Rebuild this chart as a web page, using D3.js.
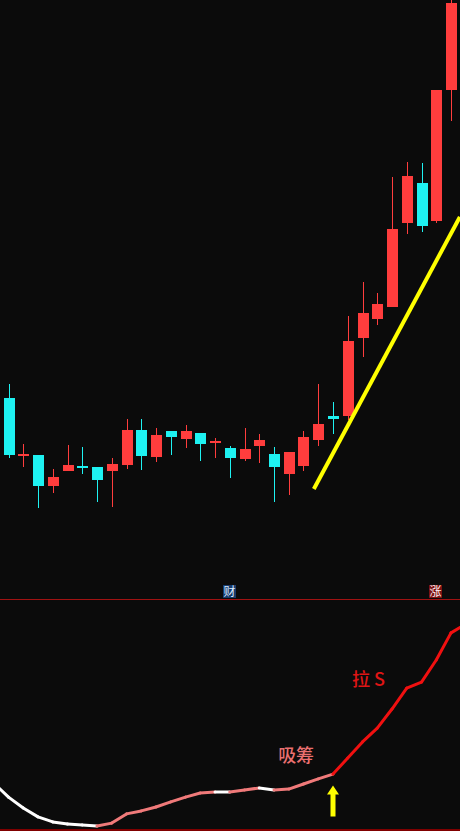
<!DOCTYPE html>
<html>
<head>
<meta charset="utf-8">
<script src="https://cdn.jsdelivr.net/npm/d3@7"></script>
<style>
  html, body { margin: 0; padding: 0; background: #0b0b0b; }
  #chart { width: 460px; height: 831px; }
</style>
</head>
<body>
<div id="chart"></div>
<script>
// daily candles: open, high, low, close
const opens  = [12.04,10.90,10.90,10.28,10.58,10.68,10.66,10.58,10.70,11.40,10.86,11.38,11.22,11.34,11.14,11.04,10.82,11.08,10.92,10.52,10.68,11.20,11.68,11.68,13.24,13.62,13.86,15.54,16.34,15.58,18.20];
const highs  = [12.32,11.12,10.90,10.62,11.10,11.06,10.66,10.84,11.62,11.62,11.44,11.38,11.50,11.34,11.24,11.08,11.44,11.32,11.06,10.96,11.38,12.32,11.96,13.68,14.36,14.14,16.46,16.76,16.74,18.20,20.10];
const lows   = [10.84,10.66, 9.84,10.14,10.58,10.52, 9.96, 9.86,10.62,10.60,10.76,10.90,11.04,10.78,10.84,10.44,10.78,10.74, 9.96,10.10,10.58,11.08,11.32,11.60,12.86,13.50,13.86,15.32,15.36,15.54,17.58];
const closes = [10.90,10.92,10.28,10.46,10.70,10.66,10.40,10.72,11.40,10.88,11.30,11.26,11.38,11.12,11.18,10.84,11.02,11.20,10.66,10.96,11.26,11.52,11.62,13.18,13.74,13.92,15.42,16.48,15.48,18.20,19.94];

// trend line drawn under the rally (index, price)
const trendLine = [{i: 20.7, p: 10.22}, {i: 30.6, p: 15.66}];

// little flags sitting on the divider
const flags = [{i: 15, text: "财", kind: "blue"}, {i: 29, text: "涨", kind: "red"}];

// indicator, index -1 .. 31, and its state per point (w = idle, p = 吸筹, r = 拉S)
const indicator = [20.4,14.3,9.6,5.7,3.5,2.6,2.2,1.7,3.0,7.0,8.3,10.0,12.2,14.3,16.1,16.5,16.5,17.4,18.3,17.4,17.8,20.0,22.2,24.3,31.3,38.3,44.3,52.6,61.7,64.3,73.9,85.7,89.6];
const states = ["w","w","w","w","w","w","w","w","p","p","p","p","p","p","p","p","w","p","p","w","p","p","p","p","r","r","r","r","r","r","r","r","r"];

const notes = [{text: "吸筹", i: 19.5, v: 29.6, kind: "p"}, {text: "拉 S", i: 24.4, v: 62.6, kind: "r"}];
const arrowAt = {i: 22, top: 19.3, bottom: 5.9};

const width = 460;
const height = 831;
const divY = 599.5;

const upColor = "#ff3d3d";
const downColor = "#1ef2f2";
const lineColors = {w: "#ffffff", p: "#f07a7a", r: "#f01010"};

const svg = d3.select("#chart")
    .append("svg")
    .attr("width", width)
    .attr("height", height)
    .style("background", "#0b0b0b");

const x = d3.scaleLinear().domain([0, 30]).range([8.5, 451]);
const y = d3.scaleLinear().domain([10, 20]).range([500, 0]);
const yInd = d3.scaleLinear().domain([0, 100]).range([830, 600]);

svg.append("clipPath").attr("id", "clipTop")
  .append("rect").attr("x", 0).attr("y", 0).attr("width", width).attr("height", divY);
svg.append("clipPath").attr("id", "clipBottom")
  .append("rect").attr("x", 0).attr("y", divY + 1).attr("width", width).attr("height", 829 - divY - 1);

//CANDLES
const candles = opens.map(function(o, i) {
  return {i: i, o: o, h: highs[i], l: lows[i], c: closes[i]};
});

const topPanel = svg.append("g").attr("clip-path", "url(#clipTop)");

const g = topPanel.selectAll("g.candle")
    .data(candles)
    .enter().append("g")
    .attr("class", "candle");

g.append("line")
    .attr("x1", function(d) { return Math.round(x(d.i)) + 0.5; })
    .attr("x2", function(d) { return Math.round(x(d.i)) + 0.5; })
    .attr("y1", function(d) { return y(d.h); })
    .attr("y2", function(d) { return y(d.l); })
    .attr("stroke", function(d) { return d.c >= d.o ? upColor : downColor; })
    .attr("stroke-width", 1);

g.append("rect")
    .attr("x", function(d) { return Math.round(x(d.i)) - 5; })
    .attr("width", 11)
    .attr("y", function(d) { return y(Math.max(d.o, d.c)); })
    .attr("height", function(d) { return Math.max(2, Math.abs(y(d.o) - y(d.c))); })
    .attr("fill", function(d) { return d.c >= d.o ? upColor : downColor; });

// yellow trend line
topPanel.append("line")
    .attr("x1", x(trendLine[0].i))
    .attr("y1", y(trendLine[0].p))
    .attr("x2", x(trendLine[1].i))
    .attr("y2", y(trendLine[1].p))
    .attr("stroke", "#ffff00")
    .attr("stroke-width", 4);

//DIVIDERS
svg.append("line")
    .attr("x1", 0).attr("x2", width)
    .attr("y1", divY).attr("y2", divY)
    .attr("stroke", "#a01212").attr("stroke-width", 1);

svg.append("line")
    .attr("x1", 0).attr("x2", width)
    .attr("y1", 830).attr("y2", 830)
    .attr("stroke", "#800000").attr("stroke-width", 2);

const flag = svg.selectAll("g.flag")
    .data(flags)
    .enter().append("g")
    .attr("class", "flag");

flag.append("rect")
    .attr("x", function(d) { return Math.round(x(d.i)) - 7; })
    .attr("y", 585)
    .attr("width", 13)
    .attr("height", 13)
    .attr("fill", function(d) { return d.kind === "blue" ? "#173a6c" : "#7a1212"; });

flag.append("text")
    .attr("x", function(d) { return Math.round(x(d.i)) - 0.5; })
    .attr("y", 596)
    .attr("text-anchor", "middle")
    .attr("font-family", "'Noto Sans CJK SC', sans-serif")
    .attr("font-size", "12px")
    .attr("fill", function(d) { return d.kind === "blue" ? "#dcecff" : "#fff0f0"; })
    .text(function(d) { return d.text; });

//INDICATOR
const pts = indicator.map(function(v, k) { return {i: k - 1, v: v, s: states[k]}; });
const segs = d3.pairs(pts);

const bottomPanel = svg.append("g").attr("clip-path", "url(#clipBottom)");

bottomPanel.selectAll("line.seg")
    .data(segs)
    .enter().append("line")
    .attr("class", "seg")
    .attr("x1", function(d) { return x(d[0].i); })
    .attr("y1", function(d) { return yInd(d[0].v); })
    .attr("x2", function(d) { return x(d[1].i); })
    .attr("y2", function(d) { return yInd(d[1].v); })
    .attr("stroke", function(d) { return lineColors[d[1].s]; })
    .attr("stroke-width", 3)
    .attr("stroke-linecap", "round");

svg.selectAll("text.note")
    .data(notes)
    .enter().append("text")
    .attr("class", "note")
    .attr("x", function(d) { return x(d.i); })
    .attr("y", function(d) { return yInd(d.v); })
    .attr("text-anchor", "middle")
    .attr("font-family", "'Noto Sans CJK SC', 'Liberation Serif', serif")
    .attr("font-size", "18px")
    .attr("font-weight", 500)
    .attr("fill", function(d) { return d.kind === "p" ? "#ea7070" : "#e01515"; })
    .text(function(d) { return d.text; });

// yellow arrow pointing at the turn
const ax = x(arrowAt.i), aTop = yInd(arrowAt.top), aBot = yInd(arrowAt.bottom);
svg.append("path")
    .attr("d", `M${ax},${aTop} L${ax + 6},${aTop + 9} L${ax + 2.5},${aTop + 9} L${ax + 2.5},${aBot} L${ax - 2.5},${aBot} L${ax - 2.5},${aTop + 9} L${ax - 6},${aTop + 9} Z`)
    .attr("fill", "#ffff00");
</script>
</body>
</html>
